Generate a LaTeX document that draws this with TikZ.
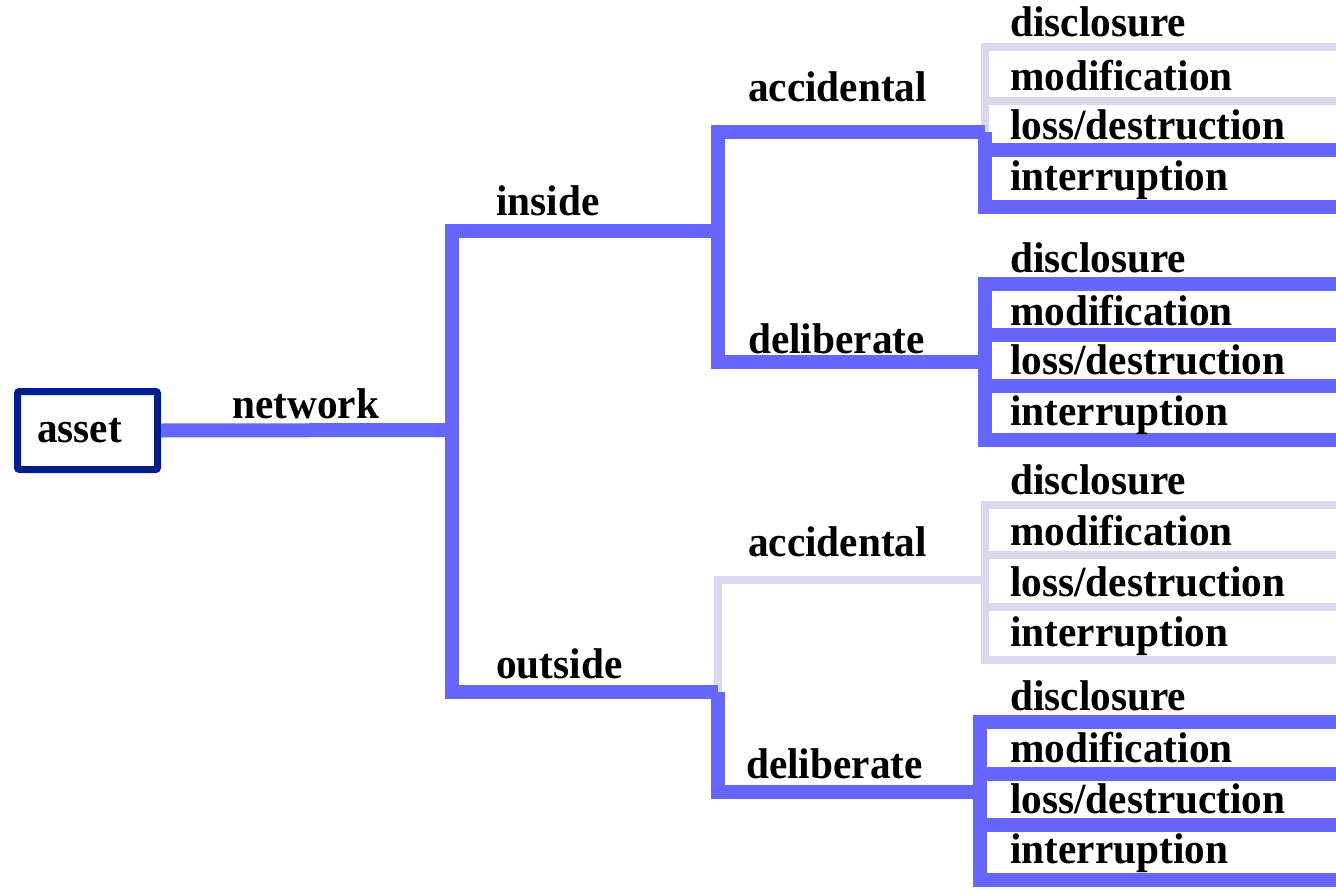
\documentclass[tikz,border=0pt]{standalone}
\usepackage{fontspec}
\setmainfont{Liberation Serif}[FakeStretch=0.96]
\definecolor{hotblue}{RGB}{102,102,255}
\definecolor{coldgray}{RGB}{218,216,238}
\definecolor{navy}{RGB}{0,30,140}
\begin{document}
\begin{tikzpicture}[x=1pt,y=-1pt,line join=miter,
  lbl/.style={anchor=base west,inner sep=0pt,font=\fontsize{43}{48}\selectfont\bfseries},
  hot/.style={draw=hotblue,line width=14pt},
  cold/.style={draw=coldgray,line width=8pt},
  assetbox/.style={draw=navy,line width=7pt,rounded corners=2pt,
    minimum height=78pt,text width=101pt,inner xsep=19.5pt,inner ysep=0pt,align=left,
    font=\fontsize{43}{48}\selectfont\bfseries}]
\useasboundingbox (0,0) rectangle (1336,891);

% root
\node[assetbox] (asset) at (87.5,430.5) {asset};

% branch points
\coordinate (trunkTop) at (452,231);
\coordinate (trunkMid) at (452,430);
\coordinate (trunkBot) at (452,692);
\coordinate (inJ) at (718,231);
\coordinate (inAcc) at (718,132);
\coordinate (inDel) at (718,362);
\coordinate (outJ) at (718,692);
\coordinate (outAcc) at (718,580);
\coordinate (outDel) at (718,792);

% leaf rails: group 1 (inside, accidental)
\coordinate (g1a) at (985,47);  \coordinate (e1a) at (1336,47);
\coordinate (g1b) at (985,101); \coordinate (e1b) at (1336,101);
\coordinate (g1j) at (985,132);
\coordinate (g1c) at (985,150); \coordinate (e1c) at (1336,150);
\coordinate (g1d) at (985,207); \coordinate (e1d) at (1336,207);
% group 2 (inside, deliberate)
\coordinate (g2a) at (985,284); \coordinate (e2a) at (1336,284);
\coordinate (g2b) at (985,335); \coordinate (e2b) at (1336,335);
\coordinate (g2j) at (985,362);
\coordinate (g2c) at (985,386); \coordinate (e2c) at (1336,386);
\coordinate (g2d) at (985,440); \coordinate (e2d) at (1336,440);
% group 3 (outside, accidental)
\coordinate (g3a) at (985,505); \coordinate (e3a) at (1336,505);
\coordinate (g3b) at (985,555); \coordinate (e3b) at (1336,555);
\coordinate (g3j) at (985,580);
\coordinate (g3c) at (985,607); \coordinate (e3c) at (1336,607);
\coordinate (g3d) at (985,660); \coordinate (e3d) at (1336,660);
% group 4 (outside, deliberate)
\coordinate (g4a) at (980,722); \coordinate (e4a) at (1336,722);
\coordinate (g4b) at (980,774); \coordinate (e4b) at (1336,774);
\coordinate (g4j) at (980,792);
\coordinate (g4c) at (980,825); \coordinate (e4c) at (1336,825);
\coordinate (g4d) at (980,880); \coordinate (e4d) at (1336,880);

% inactive paths
\draw[cold] (e1a) -- (g1a) -- (g1j);
\draw[cold] (g1b) -- (e1b);
\draw[cold] (outJ) -- (outAcc) -- (g3j);
\draw[cold] (e3a) -- (g3a) -- (g3d) -- (e3d);
\draw[cold] (g3b) -- (e3b);
\draw[cold] (g3c) -- (e3c);

% active paths
\draw[hot] (asset.east) -- (trunkMid);
\draw[hot] (inJ) -- (trunkTop) -- (trunkBot) -- (outJ);
\draw[hot] (g1j) -- (inAcc) -- (inDel) -- (g2j);
\draw[hot] (g1j) -- (g1d) -- (e1d);
\draw[hot] (g1c) -- (e1c);
\draw[hot] (e2a) -- (g2a) -- (g2d) -- (e2d);
\draw[hot] (g2b) -- (e2b);
\draw[hot] (g2c) -- (e2c);
\draw[hot] (outJ) -- (outDel) -- (g4j);
\draw[hot] (e4a) -- (g4a) -- (g4d) -- (e4d);
\draw[hot] (g4b) -- (e4b);
\draw[hot] (g4c) -- (e4c);

% branch labels
\node[lbl] (network) at (232,418) {network};
\node[lbl] (inside) at (496,215) {inside};
\node[lbl] (outside) at (496,678) {outside};
\node[lbl] (inacc) at (748,102) {accidental};
\node[lbl] (indel) at (748,353) {deliberate};
\node[lbl] (outacc) at (748,556) {accidental};
\node[lbl] (outdel) at (746,778) {deliberate};

% leaf labels
\node[lbl] (l1a) at (1010,37) {disclosure};
\node[lbl] (l1b) at (1010,90) {modification};
\node[lbl] (l1c) at (1010,139) {loss/destruction};
\node[lbl] (l1d) at (1010,190) {interruption};
\node[lbl] (l2a) at (1010,272) {disclosure};
\node[lbl] (l2b) at (1010,325) {modification};
\node[lbl] (l2c) at (1010,374) {loss/destruction};
\node[lbl] (l2d) at (1010,425) {interruption};
\node[lbl] (l3a) at (1010,494) {disclosure};
\node[lbl] (l3b) at (1010,545) {modification};
\node[lbl] (l3c) at (1010,596) {loss/destruction};
\node[lbl] (l3d) at (1010,646) {interruption};
\node[lbl] (l4a) at (1010,710) {disclosure};
\node[lbl] (l4b) at (1010,762) {modification};
\node[lbl] (l4c) at (1010,813) {loss/destruction};
\node[lbl] (l4d) at (1010,863) {interruption};
\end{tikzpicture}
\end{document}
